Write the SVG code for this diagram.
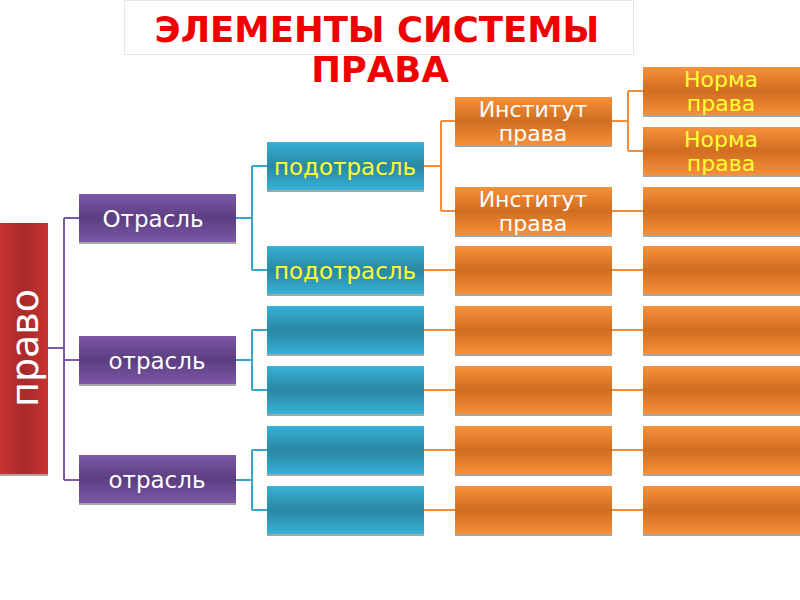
<svg xmlns="http://www.w3.org/2000/svg" width="800" height="600" viewBox="0 0 800 600">
<defs>
<linearGradient id="gO" x1="0" y1="0" x2="0" y2="1">
<stop offset="0" stop-color="#f7923a"/><stop offset="0.5" stop-color="#d06d20"/><stop offset="1" stop-color="#f68f38"/>
</linearGradient>
<linearGradient id="gB" x1="0" y1="0" x2="0" y2="1">
<stop offset="0" stop-color="#36b2d8"/><stop offset="0.5" stop-color="#2a87a2"/><stop offset="1" stop-color="#36b0d6"/>
</linearGradient>
<linearGradient id="gP" x1="0" y1="0" x2="0" y2="1">
<stop offset="0" stop-color="#7c58a6"/><stop offset="0.5" stop-color="#5c3e82"/><stop offset="1" stop-color="#7c58a6"/>
</linearGradient>
<linearGradient id="gR" x1="0" y1="0" x2="1" y2="0">
<stop offset="0" stop-color="#c83434"/><stop offset="0.5" stop-color="#a82a2a"/><stop offset="1" stop-color="#c83434"/>
</linearGradient>
<style>
.sh{fill:#a6a6a6}
.o{fill:url(#gO)}
.b{fill:url(#gB)}
.p{fill:url(#gP)}
.t{font-family:"DejaVu Sans","Liberation Sans",sans-serif;font-size:23px;text-anchor:middle}
.t2{font-size:22px}
.w{fill:#ffffff}
.y{fill:#ffff33}
.cp{stroke:#7b5ba1;stroke-width:2;fill:none}
.cb{stroke:#3aa2c4;stroke-width:2;fill:none}
.co{stroke:#f08c3e;stroke-width:2;fill:none}
</style>
</defs>
<rect width="800" height="600" fill="#ffffff"/>
<g id="title">
<rect x="124.5" y="0.5" width="509" height="54" fill="#ffffff" stroke="#e6e6e6"/>
<text x="377" y="42" font-family="DejaVu Sans,Liberation Sans,sans-serif" font-weight="bold" font-size="35.5" fill="#f00000" text-anchor="middle">ЭЛЕМЕНТЫ СИСТЕМЫ</text>
<text x="380" y="82" font-family="DejaVu Sans,Liberation Sans,sans-serif" font-weight="bold" font-size="35.5" fill="#f00000" text-anchor="middle">ПРАВА</text>
</g>
<g id="connectors">
<path class="cp" d="M48,348H64M64,218V480M64,218H79M64,360H79M64,480H79"/>
<path class="cb" d="M236,218H252M252,166V270M252,166H267M252,270H267"/>
<path class="cb" d="M236,360H252M252,330V390M252,330H267M252,390H267"/>
<path class="cb" d="M236,480H252M252,450V510M252,450H267M252,510H267"/>
<path class="co" d="M424,166H441M441,121V211M441,121H455M441,211H455"/>
<path class="co" d="M424,270H455M424,330H455M424,390H455M424,450H455M424,510H455"/>
<path class="co" d="M612,121H628M628,91V151M628,91H643M628,151H643"/>
<path class="co" d="M612,211H643M612,270H643M612,330H643M612,390H643M612,450H643M612,510H643"/>
</g>
<g id="pravo">
<rect x="0" y="225" width="48" height="251" class="sh"/>
<rect x="0" y="223" width="48" height="251" fill="url(#gR)"/>
<text transform="translate(38,348) rotate(-90)" font-family="DejaVu Sans,Liberation Sans,sans-serif" font-size="38" fill="#ffffff" text-anchor="middle">право</text>
</g>
<g id="otrasl1"><rect x="79" y="196" width="157" height="48" class="sh"/><rect x="79" y="194" width="157" height="48" class="p"/><text x="153" y="227" class="t w">Отрасль</text></g>
<g id="otrasl2"><rect x="79" y="338" width="157" height="48" class="sh"/><rect x="79" y="336" width="157" height="48" class="p"/><text x="157" y="369" class="t w">отрасль</text></g>
<g id="otrasl3"><rect x="79" y="457" width="157" height="48" class="sh"/><rect x="79" y="455" width="157" height="48" class="p"/><text x="157" y="488" class="t w">отрасль</text></g>
<g id="podotrasl1"><rect x="267" y="144" width="157" height="48" class="sh"/><rect x="267" y="142" width="157" height="48" class="b"/><text x="345" y="175" class="t y">подотрасль</text></g>
<g id="podotrasl2"><rect x="267" y="248" width="157" height="48" class="sh"/><rect x="267" y="246" width="157" height="48" class="b"/><text x="345" y="279" class="t y">подотрасль</text></g>
<g id="b3"><rect x="267" y="308" width="157" height="48" class="sh"/><rect x="267" y="306" width="157" height="48" class="b"/></g>
<g id="b4"><rect x="267" y="368" width="157" height="48" class="sh"/><rect x="267" y="366" width="157" height="48" class="b"/></g>
<g id="b5"><rect x="267" y="428" width="157" height="48" class="sh"/><rect x="267" y="426" width="157" height="48" class="b"/></g>
<g id="b6"><rect x="267" y="488" width="157" height="48" class="sh"/><rect x="267" y="486" width="157" height="48" class="b"/></g>
<g id="inst1"><rect x="455" y="99" width="157" height="48" class="sh"/><rect x="455" y="97" width="157" height="48" class="o"/><text x="533" y="117" class="t t2 w">Институт</text><text x="533" y="141" class="t t2 w">права</text></g>
<g id="inst2"><rect x="455" y="189" width="157" height="48" class="sh"/><rect x="455" y="187" width="157" height="48" class="o"/><text x="533" y="207" class="t t2 w">Институт</text><text x="533" y="231" class="t t2 w">права</text></g>
<g id="m3"><rect x="455" y="248" width="157" height="48" class="sh"/><rect x="455" y="246" width="157" height="48" class="o"/></g>
<g id="m4"><rect x="455" y="308" width="157" height="48" class="sh"/><rect x="455" y="306" width="157" height="48" class="o"/></g>
<g id="m5"><rect x="455" y="368" width="157" height="48" class="sh"/><rect x="455" y="366" width="157" height="48" class="o"/></g>
<g id="m6"><rect x="455" y="428" width="157" height="48" class="sh"/><rect x="455" y="426" width="157" height="48" class="o"/></g>
<g id="m7"><rect x="455" y="488" width="157" height="48" class="sh"/><rect x="455" y="486" width="157" height="48" class="o"/></g>
<g id="norma1"><rect x="643" y="69" width="157" height="48" class="sh"/><rect x="643" y="67" width="157" height="48" class="o"/><text x="721" y="87" class="t t2 y">Норма</text><text x="721" y="111" class="t t2 y">права</text></g>
<g id="norma2"><rect x="643" y="129" width="157" height="48" class="sh"/><rect x="643" y="127" width="157" height="48" class="o"/><text x="721" y="147" class="t t2 y">Норма</text><text x="721" y="171" class="t t2 y">права</text></g>
<g id="r3"><rect x="643" y="189" width="157" height="48" class="sh"/><rect x="643" y="187" width="157" height="48" class="o"/></g>
<g id="r4"><rect x="643" y="248" width="157" height="48" class="sh"/><rect x="643" y="246" width="157" height="48" class="o"/></g>
<g id="r5"><rect x="643" y="308" width="157" height="48" class="sh"/><rect x="643" y="306" width="157" height="48" class="o"/></g>
<g id="r6"><rect x="643" y="368" width="157" height="48" class="sh"/><rect x="643" y="366" width="157" height="48" class="o"/></g>
<g id="r7"><rect x="643" y="428" width="157" height="48" class="sh"/><rect x="643" y="426" width="157" height="48" class="o"/></g>
<g id="r8"><rect x="643" y="488" width="157" height="48" class="sh"/><rect x="643" y="486" width="157" height="48" class="o"/></g>
</svg>
